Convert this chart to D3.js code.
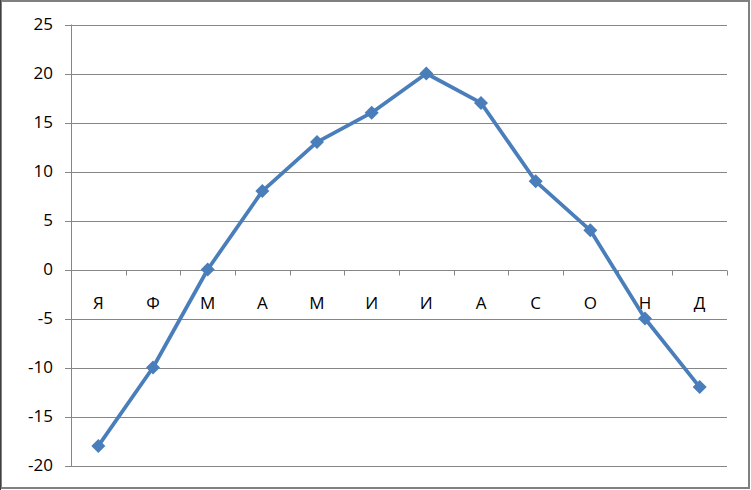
<!DOCTYPE html>
<head>
  <meta charset="utf-8">
  <script src="https://d3js.org/d3.v7.min.js"></script>
  <style>
    body { margin: 0; background: #fff; }
    text { font-family: "Open Sans", "Liberation Sans", sans-serif; font-size: 17px; fill: #000; }
  </style>
</head>
<body>
  <script>

  var months = ["Я", "Ф", "М", "А", "М", "И", "И", "А", "С", "О", "Н", "Д"];
  var temps = [-18, -10, 0, 8, 13, 16, 20, 17, 9, 4, -5, -12];
  var yTicks = [-20, -15, -10, -5, 0, 5, 10, 15, 20, 25];

  var width = 751,
      height = 490;

  var svg = d3.select("body").append("svg")
      .attr("width", width)
      .attr("height", height);

  // frame
  svg.append("rect")
      .attr("x", 1).attr("y", 1)
      .attr("width", 748).attr("height", 487)
      .attr("fill", "#fff")
      .attr("stroke", "#808080")
      .attr("stroke-width", 2);
  svg.append("line")
      .attr("x1", 0.5).attr("x2", 0.5).attr("y1", 0).attr("y2", 490)
      .attr("stroke", "#404040");

  var x = d3.scaleBand()
      .domain(d3.range(months.length))
      .range([71, 727]);

  var y = d3.scaleLinear()
      .domain([-20, 25])
      .range([465.5, 24.5]);

  // gridlines
  svg.append("g")
    .selectAll("line")
    .data(yTicks)
    .enter().append("line")
      .attr("x1", 65).attr("x2", 727)
      .attr("y1", function(d) { return Math.round(y(d)) + 0.5; })
      .attr("y2", function(d) { return Math.round(y(d)) + 0.5; })
      .attr("stroke", "#868686");

  // y axis line
  svg.append("line")
      .attr("x1", 71.5).attr("x2", 71.5)
      .attr("y1", y(25)).attr("y2", y(-20) + 1)
      .attr("stroke", "#868686");

  svg.append("g")
    .selectAll("text")
    .data(yTicks)
    .enter().append("text")
      .attr("x", 53)
      .attr("y", function(d) { return y(d); })
      .attr("dy", "0.35em")
      .attr("text-anchor", "end")
      .text(function(d) { return d; });

  // category ticks on the zero line
  var y0 = Math.round(y(0)) + 0.5;
  svg.append("g")
    .selectAll("line")
    .data(d3.range(months.length + 1))
    .enter().append("line")
      .attr("x1", function(i) { return Math.round(71 + i * x.step()) + 0.5; })
      .attr("x2", function(i) { return Math.round(71 + i * x.step()) + 0.5; })
      .attr("y1", y0).attr("y2", y0 + 5)
      .attr("stroke", "#868686");

  svg.append("g")
    .selectAll("text")
    .data(months)
    .enter().append("text")
      .attr("x", function(d, i) { return x(i) + x.bandwidth() / 2; })
      .attr("y", y0 + 33)
      .attr("dy", "0.35em")
      .attr("text-anchor", "middle")
      .text(function(d) { return d; });

  var line = d3.line()
      .x(function(d, i) { return x(i) + x.bandwidth() / 2; })
      .y(function(d) { return y(d); });

  svg.append("path")
      .datum(temps)
      .attr("d", line)
      .attr("fill", "none")
      .attr("stroke", "#4a7ebb")
      .attr("stroke-width", 3.75)
      .attr("stroke-linejoin", "round");

  svg.append("g")
    .selectAll("path")
    .data(temps)
    .enter().append("path")
      .attr("transform", function(d, i) { return "translate(" + (x(i) + x.bandwidth() / 2) + "," + y(d) + ")"; })
      .attr("d", "M0,-7L7,0L0,7L-7,0Z")
      .attr("fill", "#4a7ebb");

  </script>
</body>
